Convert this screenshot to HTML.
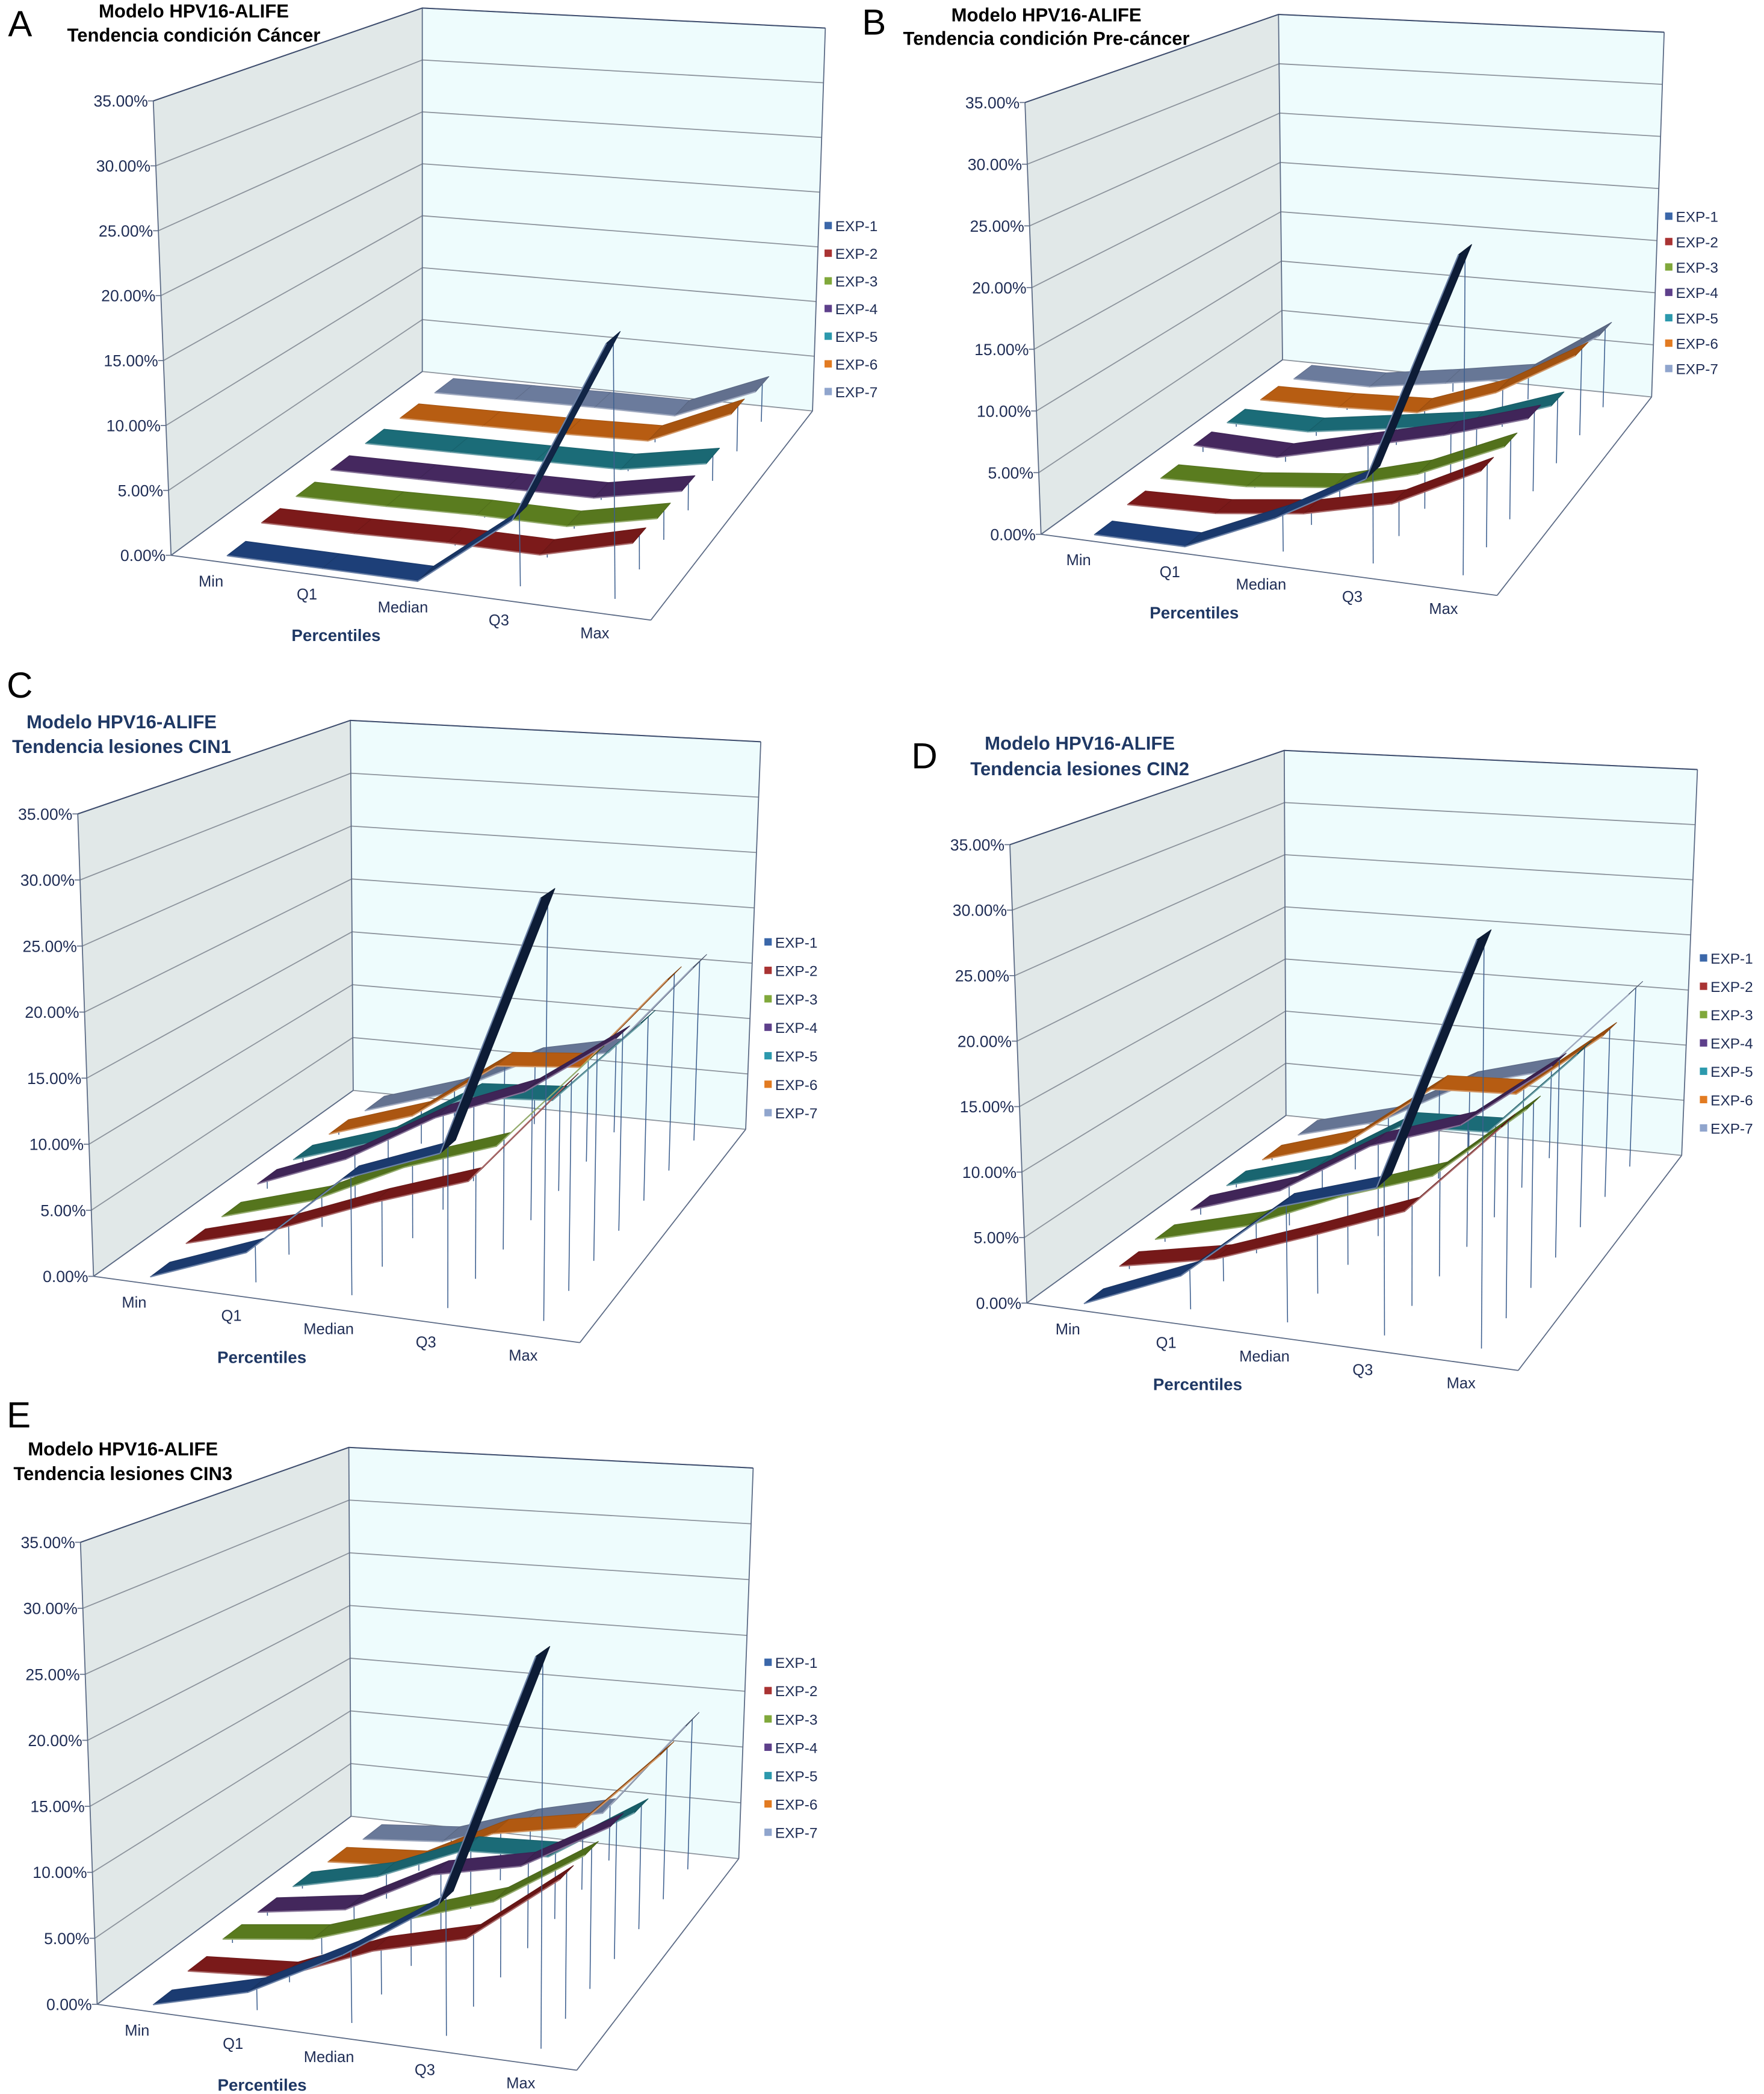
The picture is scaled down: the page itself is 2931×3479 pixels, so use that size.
<!DOCTYPE html>
<html>
<head>
<meta charset="utf-8">
<style>
html,body{margin:0;padding:0;background:#ffffff;}
svg{display:block;}
text{font-family:"Liberation Sans",Arial,sans-serif;}
</style>
</head>
<body>
<svg id="fig" xmlns="http://www.w3.org/2000/svg" width="2931" height="3479" viewBox="0 0 1320 1566.8" preserveAspectRatio="none">
<rect x="0" y="0" width="1320" height="1566.8" fill="#ffffff"/>
</svg>
<script>
// ---- shared labels ----
const categories = ['Min','Q1','Median','Q3','Max'];
const seriesNames = ['EXP-1','EXP-2','EXP-3','EXP-4','EXP-5','EXP-6','EXP-7'];
const tickLabels = ['0.00%','5.00%','10.00%','15.00%','20.00%','25.00%','30.00%','35.00%'];
const tickValues = [0,5,10,15,20,25,30,35];
const axisMax = 35;

// ---- values (percent), one array per panel, rows = EXP-1..EXP-7 ----
const valuesA = [
  [0,0,0,5.5,19.5],
  [0.5,0.6,0.8,0.8,2.6],
  [0.5,0.6,0.8,0.8,2.3],
  [0.5,0.6,0.7,0.8,2.2],
  [0.5,0.6,0.7,0.8,2.1],
  [0.4,0.5,0.6,0.8,3.9],
  [0.3,0.4,0.5,0.5,3.4]
];
const valuesB = [
  [0,0,3.2,7.2,25.5],
  [0.4,0.6,1.5,3.2,6.7],
  [0.5,0.7,1.5,3.5,6.6],
  [1.2,1.0,2.8,4.6,6.8],
  [1.0,1.0,2.1,3.2,5.7],
  [0.8,0.9,1.2,3.8,7.9],
  [0.4,0.4,1.5,2.7,7.4]
];
const valuesC = [
  [0,2.8,9.2,12,31.5],
  [0.5,2.6,5.5,8,16],
  [0.5,2.7,6.2,8.7,16.3],
  [1.0,3.9,8.1,11,16],
  [0.8,3.2,7.7,8.2,15.3],
  [0.7,3.1,8.2,8.8,17],
  [0.4,2.7,6.3,7.8,16]
];
const valuesD = [
  [0,3.1,9.2,11.5,30.5],
  [0.8,2.3,5,7.8,15],
  [0.8,2.8,6,8.5,14.5],
  [1.0,3.5,8,10.5,16],
  [0.8,3.0,7.5,7.8,15],
  [0.7,3.0,8.5,8.8,14.5],
  [0.5,2.5,6.5,8.5,16]
];
const valuesE = [
  [0,1.9,5.6,10.2,29],
  [0.5,1.0,3.9,5.7,11],
  [0.9,1.8,4.2,6.5,10.9],
  [0.9,2.0,5.7,7.2,11.1],
  [0.8,2.5,5.5,5.8,10.2],
  [0.6,1.1,4.7,6.0,12.9],
  [0.2,0.8,3.2,4.9,13.3]
];

const NS = 'http://www.w3.org/2000/svg';
const svg = document.getElementById('fig');
const ribbonColors = ['#1d3f78','#7c1a1a','#5b7d1f','#45285f','#1b6c78','#b85d12','#6b7b9c'];
const legendColors = ['#3b67a9','#a93333','#80a83b','#5e408b','#2c99ad','#e27b22','#90a5cd'];

function mk(tag, attrs, parent){
  const e = document.createElementNS(NS, tag);
  for (const k in attrs) e.setAttribute(k, attrs[k]);
  parent.appendChild(e);
  return e;
}
function shade(hex, f){
  const n = parseInt(hex.slice(1),16);
  let r=(n>>16)&255, g=(n>>8)&255, b=n&255;
  r=Math.round(r*f); g=Math.round(g*f); b=Math.round(b*f);
  return 'rgb('+r+','+g+','+b+')';
}
function lighten(hex, f){
  const n = parseInt(hex.slice(1),16);
  let r=(n>>16)&255, g=(n>>8)&255, b=n&255;
  r=Math.round(r+(255-r)*f); g=Math.round(g+(255-g)*f); b=Math.round(b+(255-b)*f);
  return 'rgb('+r+','+g+','+b+')';
}

function makeProjection(g){
  const hFL = g.FLb[1]-g.FLt[1], hBL = g.BLb[1]-g.BLt[1], hBR = g.BRb[1]-g.BRt[1];
  const tFL = (g.FLt[0]-g.FLb[0])/hFL, tBL=(g.BLt[0]-g.BLb[0])/hBL, tBR=(g.BRt[0]-g.BRb[0])/hBR;
  const hFR = hFL*hBR/hBL, tFR = tFL + tBR - tBL;
  const FRt = [g.FRb[0]+tFR*hFR, g.FRb[1]-hFR];
  function bil(a,b,c,d,u,v){
    return [
      (1-u)*(1-v)*a[0]+u*(1-v)*b[0]+(1-u)*v*c[0]+u*v*d[0],
      (1-u)*(1-v)*a[1]+u*(1-v)*b[1]+(1-u)*v*c[1]+u*v*d[1]
    ];
  }
  return function(u,v,val){
    const f = bil(g.FLb,g.FRb,g.BLb,g.BRb,u,v);
    const t = bil(g.FLt,FRt,g.BLt,g.BRt,u,v);
    const w = val/axisMax;
    return [f[0]+w*(t[0]-f[0]), f[1]+w*(t[1]-f[1])];
  };
}
function pts(arr){ return arr.map(p=>p[0].toFixed(2)+','+p[1].toFixed(2)).join(' '); }

function drawPanel(p){
  const G = mk('g', {}, svg);
  
  
  const P = makeProjection(p.geo);
  const xOf = i => (i+0.5)/categories.length;
  const vOf = s => (s+0.5)/seriesNames.length;
  const hw = 0.27/seriesNames.length;

  const lw = mk('polygon', {points: pts([P(0,0,0),P(0,1,0),P(0,1,axisMax),P(0,0,axisMax)]), fill:'#e1e8e8', stroke:'none'}, G);
  
  
  const bw = mk('polygon', {points: pts([P(0,1,0),P(1,1,0),P(1,1,axisMax),P(0,1,axisMax)]), fill:'#eefcfd', stroke:'none'}, G);
  
  

  tickValues.forEach((tv, k) => {
    const gl = mk('polyline', {points: pts([P(0,0,tv),P(0,1,tv),P(1,1,tv)]), fill:'none', stroke:'#8c939c', 'stroke-width':0.8}, G);
    
    
    const a = P(0,0,tv);
    mk('line', {x1:a[0]-4, y1:a[1], x2:a[0], y2:a[1], stroke:'#6b7890', 'stroke-width':0.8}, G);
    const t = mk('text', {x:a[0]-4, y:a[1]+4.3, 'text-anchor':'end', 'font-size':12, fill:'#1f2d55'}, G);
    t.textContent = tickLabels[k];
    
    
  });

  const edges = [
    [P(0,0,0),P(0,0,axisMax)], [P(0,1,0),P(0,1,axisMax)], [P(1,1,0),P(1,1,axisMax)],
    [P(0,0,0),P(1,0,0)], [P(1,0,0),P(1,1,0)], [P(0,0,0),P(0,1,0)]
  ];
  edges.forEach(e => {
    const l = mk('line', {x1:e[0][0], y1:e[0][1], x2:e[1][0], y2:e[1][1], stroke:'#5b6a85', 'stroke-width':0.8}, G);
    
    
  });
  const topEdge = mk('polyline', {points: pts([P(0,0,axisMax),P(0,1,axisMax),P(1,1,axisMax)]), fill:'none', stroke:'#3e4d6e', 'stroke-width':0.9}, G);
  
  

  categories.forEach((c, i) => {
    const a = P(xOf(i),0,0);
    const t = mk('text', {x:a[0]-6, y:a[1]+18.5, 'text-anchor':'middle', 'font-size':11.5, fill:'#1f2d55'}, G);
    t.textContent = c;
    
    
  });
  const mid = P(xOf(2),0,0);
  const xt = mk('text', {x:mid[0]-56, y:mid[1]+40, 'text-anchor':'middle', 'font-size':12.5, 'font-weight':'bold', fill:'#1f3864'}, G);
  xt.textContent = 'Percentiles';
  
  

  for (let s = seriesNames.length-1; s >= 0; s--) {
    const vals = p.values[s];
    const vc = vOf(s);
    const sg = mk('g', {}, G);
    
    
    vals.forEach((val, i) => {
      const top = P(xOf(i), vc, val), bot = P(xOf(i), vc, 0);
      const dl = mk('line', {x1:top[0], y1:top[1], x2:bot[0], y2:bot[1], stroke:'#3d5f8f', 'stroke-width':0.7}, sg);
      
      
    });
    for (let i = 0; i < vals.length-1; i++) {
      const u0 = xOf(i), u1 = xOf(i+1);
      const a = P(u0, vc-hw, vals[i]), b = P(u1, vc-hw, vals[i+1]);
      const c = P(u1, vc+hw, vals[i+1]), d = P(u0, vc+hw, vals[i]);
      const slope = Math.abs(vals[i+1]-vals[i]);
      const f = Math.max(0.45, 1 - slope*0.03);
      const seg = mk('polygon', {points: pts([a,b,c,d]), fill: shade(ribbonColors[s], f), stroke: shade(ribbonColors[s], f*0.9), 'stroke-width':0.5, 'stroke-linejoin':'round'}, sg);
      
      
      const fe = mk('line', {x1:a[0], y1:a[1], x2:b[0], y2:b[1], stroke: lighten(ribbonColors[s], 0.35), 'stroke-width':1}, sg);
      
      
    }
  }

  const lg = mk('g', {}, G);
  
  
  seriesNames.forEach((n, s) => {
    const y = p.legend[1] + s*p.legend[2];
    const it = mk('g', {}, lg);
    
    
    mk('rect', {x:p.legend[0], y:y-3, width:5.5, height:5.5, fill:legendColors[s]}, it);
    const t = mk('text', {x:p.legend[0]+8, y:y+4, 'font-size':11, fill:'#1f2d55'}, it);
    t.textContent = n;
  });

  const tg = mk('g', {}, G);
  
  
  p.title.forEach((line, k) => {
    const t = mk('text', {x:p.titlePos[0], y:p.titlePos[1]+k*p.titlePos[2], 'text-anchor':'middle', 'font-size':14, 'font-weight':'bold', fill:p.titleColor}, tg);
    t.textContent = line;
  });
  const L = mk('text', {x:p.letter[0], y:p.letter[1], 'font-size':27, fill:'#000'}, G);
  L.textContent = p.id;
  
  
}

const panels = [
  {id:'A', values:valuesA,
   geo:{FLb:[128,415.5],FLt:[114.7,75.5],BLb:[316,278],BLt:[316,6],BRb:[608,307.5],BRt:[617.6,21],FRb:[487,464]},
   legend:[617,169,20.7], title:['Modelo HPV16-ALIFE','Tendencia condición Cáncer'], titlePos:[145,13,18], titleColor:'#000', letter:[6,27]},
  {id:'B', values:valuesB,
   geo:{FLb:[779,399.8],FLt:[767,76.7],BLb:[959.7,269.2],BLt:[956.7,10.8],BRb:[1235.9,297],BRt:[1245.3,24.1],FRb:[1120.3,445.5]},
   legend:[1246,162,19], title:['Modelo HPV16-ALIFE','Tendencia condición Pre-cáncer'], titlePos:[783,16,17.5], titleColor:'#000', letter:[645,26]},
  {id:'C', values:valuesC,
   geo:{FLb:[70,955],FLt:[58.2,609],BLb:[264.3,815.9],BLt:[262.2,539],BRb:[558,845],BRt:[569.3,555],FRb:[433.9,1004.6]},
   legend:[572,705,21.3], title:['Modelo HPV16-ALIFE','Tendencia lesiones CIN1'], titlePos:[91,545,18.5], titleColor:'#1f3864', letter:[5,522]},
  {id:'D', values:valuesD,
   geo:{FLb:[768.3,975],FLt:[755.7,632],BLb:[962.3,834.6],BLt:[961,561.5],BRb:[1258.4,864.5],BRt:[1270.2,575.8],FRb:[1136.1,1025.4]},
   legend:[1272,717,21.2], title:['Modelo HPV16-ALIFE','Tendencia lesiones CIN2'], titlePos:[808,561,19], titleColor:'#1f3864', letter:[682,575]},
  {id:'E', values:valuesE,
   geo:{FLb:[72.7,1499.7],FLt:[60.2,1154],BLb:[262.7,1359],BLt:[261,1083],BRb:[552.8,1390.7],BRt:[563.6,1098.4],FRb:[431.6,1549]},
   legend:[572,1244,21.2], title:['Modelo HPV16-ALIFE','Tendencia lesiones CIN3'], titlePos:[92,1089,18.5], titleColor:'#000', letter:[5,1068]}
];
panels.forEach(drawPanel);
</script>
</body>
</html>
